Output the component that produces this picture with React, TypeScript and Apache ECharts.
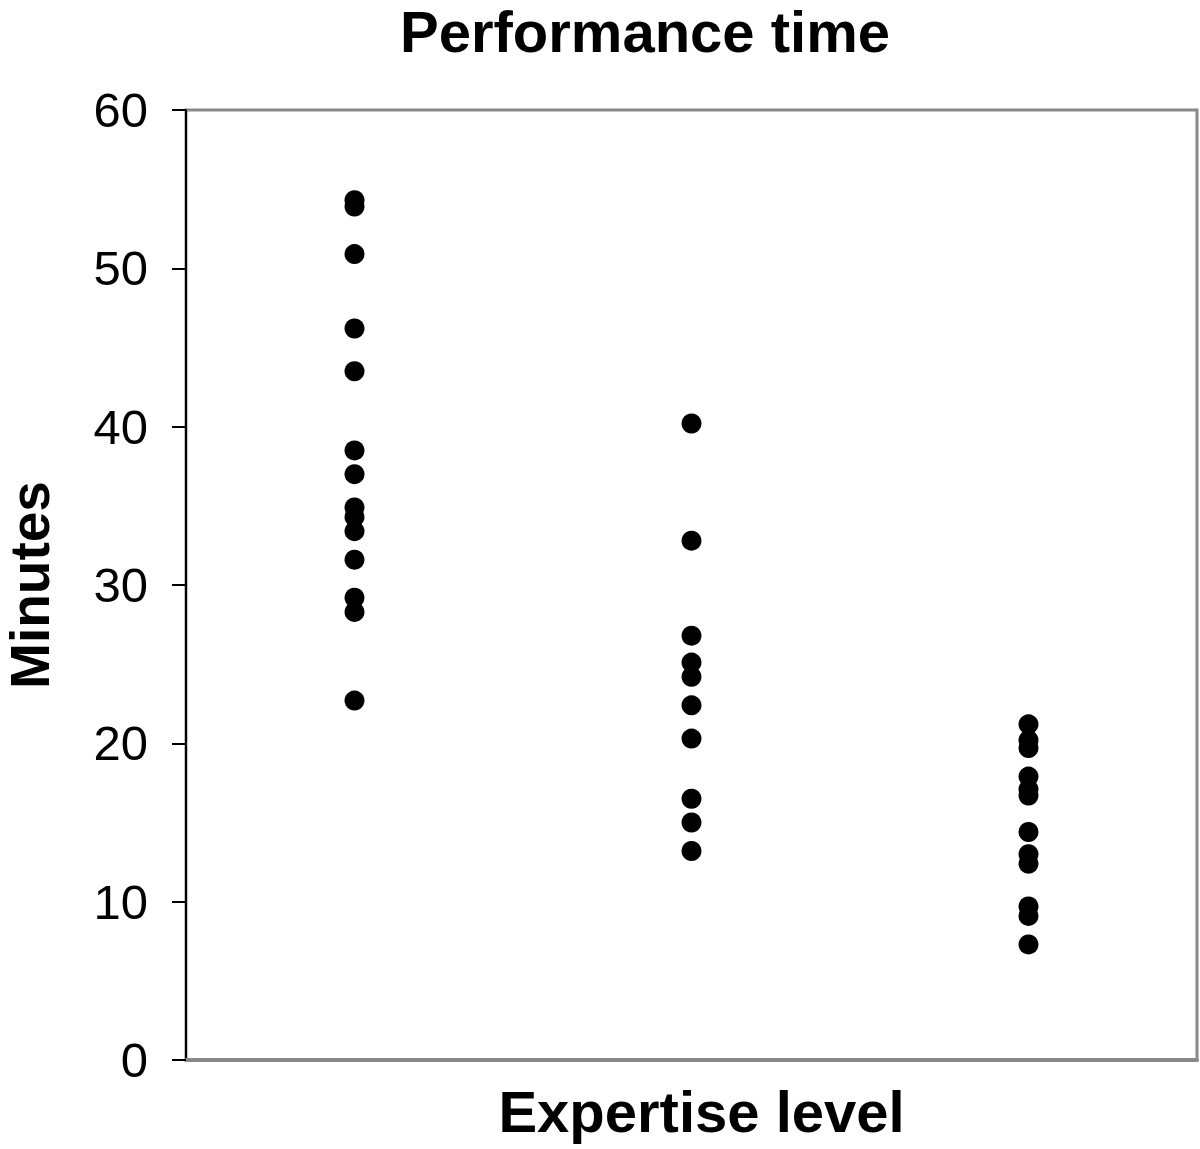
import React, { useEffect, useRef } from "react";
import * as echarts from "echarts";

const categories = ["Level 1", "Level 2", "Level 3"];
const group1 = [54.3, 53.9, 50.9, 46.2, 43.5, 38.5, 37.0, 34.9, 34.3, 33.4, 31.6, 29.2, 28.3, 22.7];
const group2 = [40.2, 32.8, 26.8, 25.1, 24.2, 22.4, 20.3, 16.5, 15.0, 13.2];
const group3 = [21.2, 20.2, 19.7, 17.9, 17.1, 16.7, 14.4, 13.0, 12.4, 9.7, 9.1, 7.3];
const yTicks = [0, 10, 20, 30, 40, 50, 60];

export default function App() {
  const ref = useRef<HTMLDivElement>(null);
  useEffect(() => {
    if (!ref.current) return;
    const chart = echarts.init(ref.current, null, { renderer: "svg" });
    const groups = [group1, group2, group3];
    const data: [string, number][] = [];
    groups.forEach((g, i) => g.forEach((v) => data.push([categories[i], v])));
    const font = "'Liberation Sans', Arial, Helvetica, sans-serif";
    chart.setOption({
      animation: false,
      backgroundColor: "#fff",
      title: {
        text: "Performance time",
        left: 645,
        textAlign: "center",
        top: 0,
        padding: 0,
        textStyle: { fontFamily: font, fontWeight: "bold", fontSize: 58, color: "#000", lineHeight: 62 },
      },
      grid: {
        left: 186,
        top: 110,
        right: 3,
        bottom: 89,
        show: true,
        borderColor: "#888",
        borderWidth: 3,
        backgroundColor: "#fff",
        containLabel: false,
        outerBoundsMode: "none",
      },
      xAxis: {
        type: "category",
        data: categories,
        name: "Expertise level",
        nameLocation: "middle",
        nameGap: 22,
        nameTextStyle: {
          fontFamily: font,
          fontWeight: "bold",
          fontSize: 58,
          color: "#000",
          padding: [0, 0, 0, 20],
        },
        axisLine: { show: true, lineStyle: { color: "#888", width: 4 } },
        axisTick: { show: false },
        axisLabel: { show: false },
        splitLine: { show: false },
      },
      yAxis: {
        type: "value",
        min: 0,
        max: 60,
        interval: 10,
        name: "Minutes",
        nameLocation: "middle",
        nameGap: 128,
        nameTextStyle: { fontFamily: font, fontWeight: "bold", fontSize: 55, color: "#000", lineHeight: 56 },
        axisLine: { show: true, lineStyle: { color: "#000", width: 2 } },
        axisTick: { show: true, length: 14, lineStyle: { color: "#000", width: 2 } },
        axisLabel: {
          margin: 38,
          fontFamily: font,
          fontSize: 49,
          color: "#000",
          formatter: (v: number) => (yTicks.includes(v) ? String(v) : ""),
        },
        splitLine: { show: false },
      },
      series: [
        {
          type: "scatter",
          data,
          symbol: "circle",
          symbolSize: 20,
          itemStyle: { color: "#000", opacity: 1 },
        },
      ],
    });
    return () => chart.dispose();
  }, []);
  return (
    <div
      ref={ref}
      style={{ position: "fixed", left: 0, top: 0, width: 1200, height: 1149 }}
    />
  );
}
